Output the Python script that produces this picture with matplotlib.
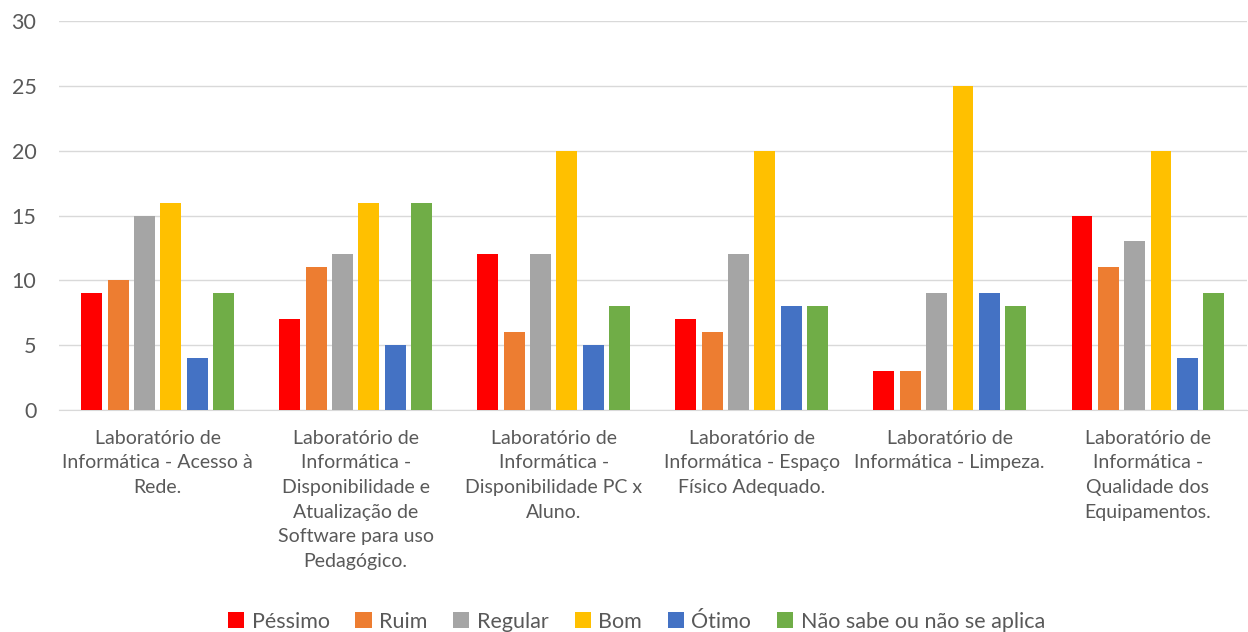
import matplotlib.pyplot as plt
import numpy as np

plt.rcParams['font.family'] = ['Lato', 'DejaVu Sans']

# Data
categorias = [
    "Laboratório de\nInformática - Acesso à\nRede.",
    "Laboratório de\nInformática -\nDisponibilidade e\nAtualização de\nSoftware para uso\nPedagógico.",
    "Laboratório de\nInformática -\nDisponibilidade PC x\nAluno.",
    "Laboratório de\nInformática - Espaço\nFísico Adequado.",
    "Laboratório de\nInformática - Limpeza.",
    "Laboratório de\nInformática -\nQualidade dos\nEquipamentos.",
]
pessimo = [9, 7, 12, 7, 3, 15]
ruim = [10, 11, 6, 6, 3, 11]
regular = [15, 12, 12, 12, 9, 13]
bom = [16, 16, 20, 20, 25, 20]
otimo = [4, 5, 5, 8, 9, 4]
nao_sabe = [9, 16, 8, 8, 8, 9]

series = [
    ("Péssimo", pessimo, "#FF0000"),
    ("Ruim", ruim, "#ED7D31"),
    ("Regular", regular, "#A5A5A5"),
    ("Bom", bom, "#FFC000"),
    ("Ótimo", otimo, "#4472C4"),
    ("Não sabe ou não se aplica", nao_sabe, "#70AD47"),
]

fig = plt.figure(figsize=(12.48, 6.32), dpi=100)
ax = fig.add_axes([0.047, 0.351, 0.952, 0.616])

x = np.arange(len(categorias))
step = 0.133
width = 0.105
for i, (nome, vals, cor) in enumerate(series):
    ax.bar(x + (i - 2.5) * step, vals, width, color=cor, label=nome, zorder=3)

ax.set_xlim(-0.5, len(categorias) - 0.5)
ax.set_ylim(0, 30)
ax.set_yticks(range(0, 31, 5))
ax.grid(axis="y", color="#D9D9D9", linewidth=1, zorder=0)
ax.set_xticks(x)
ax.set_xticklabels(categorias, fontsize=14, color="#595959", linespacing=1.55)
ax.tick_params(axis="y", labelsize=15.5, colors="#595959", length=0, pad=16)
ax.tick_params(axis="x", length=0, pad=14)
for s in ["top", "right", "left"]:
    ax.spines[s].set_visible(False)
ax.spines["bottom"].set_color("#D9D9D9")

fig.legend(loc="lower center", ncol=6, bbox_to_anchor=(0.51, -0.03), frameon=False,
           fontsize=15.5, handlelength=0.75, handleheight=0.75, columnspacing=1.2,
           handletextpad=0.35, labelcolor="#595959")

fig.savefig("out.png", dpi=100)
